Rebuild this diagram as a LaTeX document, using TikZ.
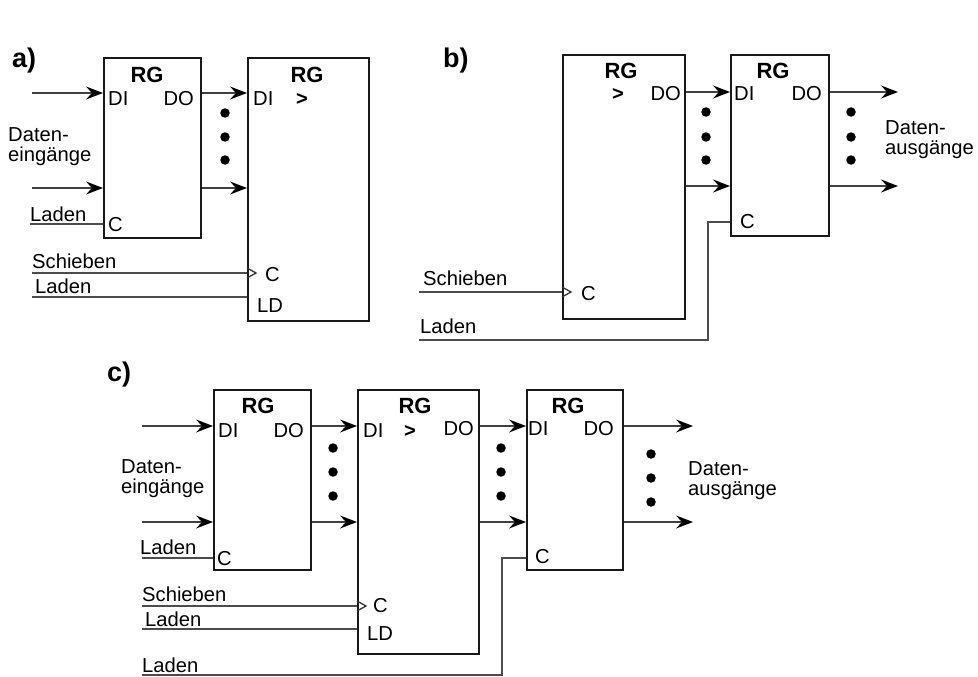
\documentclass[tikz,border=0pt]{standalone}
\usepackage{fontspec}
\setmainfont{Liberation Sans}
\usetikzlibrary{arrows.meta}
\begin{document}
\begin{tikzpicture}[x=1pt,y=-1pt,
 box/.style={draw=black!90, line width=2.2pt, inner sep=0pt, anchor=north west},
 wire/.style={draw=black!70, line width=1.5pt},
 arr/.style={draw=black!75, line width=1.5pt, -{Stealth[length=17pt,width=13pt,inset=6pt,black]}},
 lbl/.style={inner sep=0pt, font=\fontsize{20.2}{24}\selectfont},
 lw/.style={lbl, anchor=base west},
 le/.style={lbl, anchor=base east},
 gt/.style={inner sep=0pt, font=\fontsize{20}{24}\selectfont\bfseries, anchor=base},
 rg/.style={inner sep=0pt, font=\fontsize{22}{26}\selectfont\bfseries, anchor=base},
 panel/.style={inner sep=0pt, font=\fontsize{27}{30}\selectfont\bfseries, anchor=base west},
 dotm/.style={fill=black, circle, inner sep=0pt, minimum size=9.5pt},
 clk/.style={draw=black!80, line width=1.3pt}
]
\useasboundingbox (0,0) rectangle (978,677);
% ---------------- panel a
\node[panel] (pa) at (12,67) {a)};
\node[box, minimum width=97pt, minimum height=180pt] (a1) at (103,57) {};
\node[box, minimum width=121pt, minimum height=263pt] (a2) at (247,57) {};
\coordinate (ai1) at (32,93); \coordinate (ai2) at (32,188);
\draw[arr] (ai1) -- (ai1 -| a1.west);
\draw[arr] (ai2) -- (ai2 -| a1.west);
\draw[arr] (ai1 -| a1.east) -- (ai1 -| a2.west);
\draw[arr] (ai2 -| a1.east) -- (ai2 -| a2.west);
\coordinate (al1) at (30,224); \draw[wire] (al1) -- (al1 -| a1.west);
\coordinate (as) at (32,273); \draw[wire] (as) -- (as -| a2.west);
\draw[clk] (as -| a2.west) ++(0,-5) -- ++(9,5) -- ++(-9,5);
\coordinate (al2) at (32,297); \draw[wire] (al2) -- (al2 -| a2.west);
\node[rg] (a1rg) at (147,82) {RG};
\node[lw] (a1di) at (108,106) {DI};
\node[le] (a1do) at (194,106) {DO};
\node[lw] (ade1) at (8,141) {Daten-};
\node[lw] (ade2) at (8,161) {eingänge};
\node[lw] (alad1) at (30,221) {Laden};
\node[lw] (a1c) at (108,231) {C};
\node[rg] (a2rg) at (307,82) {RG};
\node[lw] (a2di) at (253,106) {DI};
\node[gt] (a2gt) at (302,106) {>};
\node[lw] (asch) at (32,268) {Schieben};
\node[lw] (a2c) at (265,281) {C};
\node[lw] (alad2) at (35,293) {Laden};
\node[lw] (a2ld) at (257,312) {LD};
\node[dotm] (ad1) at (225,113) {};
\node[dotm] (ad2) at (225,137) {};
\node[dotm] (ad3) at (225,160) {};
% ---------------- panel b
\node[panel] (pb) at (443,67) {b)};
\node[box, minimum width=122pt, minimum height=264pt] (b1) at (562,54) {};
\node[box, minimum width=98pt, minimum height=181pt] (b2) at (730,54) {};
\coordinate (bo1) at (898,92); \coordinate (bo2) at (898,186);
\draw[arr] (bo1 -| b1.east) -- (bo1 -| b2.west);
\draw[arr] (bo2 -| b1.east) -- (bo2 -| b2.west);
\draw[arr] (bo1 -| b2.east) -- (bo1);
\draw[arr] (bo2 -| b2.east) -- (bo2);
\coordinate (bs) at (419,292); \draw[wire] (bs) -- (bs -| b1.west);
\draw[clk] (bs -| b1.west) ++(0,-5) -- ++(9,5) -- ++(-9,5);
\coordinate (bl) at (419,340); \coordinate (bk) at (708,222);
\draw[wire] (bl) -| (bk) -- (bk -| b2.west);
\node[rg] (b1rg) at (621,78) {RG};
\node[gt] (b1gt) at (618,101) {>};
\node[le] (b1do) at (681,100) {DO};
\node[rg] (b2rg) at (773,78) {RG};
\node[lw] (b2di) at (734,100) {DI};
\node[le] (b2do) at (822,100) {DO};
\node[lw] (b2c) at (740,228) {C};
\node[lw] (bda1) at (885,134) {Daten-};
\node[lw] (bda2) at (885,154) {ausgänge};
\node[lw] (bsch) at (423,285) {Schieben};
\node[lw] (b1c) at (581,300) {C};
\node[lw] (blad) at (420,333) {Laden};
\node[dotm] (bd1) at (706,112) {};
\node[dotm] (bd2) at (706,137) {};
\node[dotm] (bd3) at (706,160) {};
\node[dotm] (bd4) at (851,112) {};
\node[dotm] (bd5) at (851,137) {};
\node[dotm] (bd6) at (851,160) {};
% ---------------- panel c
\node[panel] (pc) at (107,381) {c)};
\node[box, minimum width=97pt, minimum height=180pt] (c1) at (213,389) {};
\node[box, minimum width=121pt, minimum height=264pt] (c2) at (357,389) {};
\node[box, minimum width=96pt, minimum height=180pt] (c3) at (526,389) {};
\coordinate (ci1) at (142,426); \coordinate (ci2) at (142,522);
\coordinate (co1) at (693,426); \coordinate (co2) at (693,522);
\draw[arr] (ci1) -- (ci1 -| c1.west);
\draw[arr] (ci2) -- (ci2 -| c1.west);
\draw[arr] (ci1 -| c1.east) -- (ci1 -| c2.west);
\draw[arr] (ci2 -| c1.east) -- (ci2 -| c2.west);
\draw[arr] (ci1 -| c2.east) -- (ci1 -| c3.west);
\draw[arr] (ci2 -| c2.east) -- (ci2 -| c3.west);
\draw[arr] (co1 -| c3.east) -- (co1);
\draw[arr] (co2 -| c3.east) -- (co2);
\coordinate (cl1) at (142,558); \draw[wire] (cl1) -- (cl1 -| c1.west);
\coordinate (cs) at (142,606); \draw[wire] (cs) -- (cs -| c2.west);
\draw[clk] (cs -| c2.west) ++(0,-5) -- ++(9,5) -- ++(-9,5);
\coordinate (cl2) at (142,629); \draw[wire] (cl2) -- (cl2 -| c2.west);
\coordinate (cl3) at (142,675); \coordinate (ck) at (502,558);
\draw[wire] (cl3) -| (ck) -- (ck -| c3.west);
\node[rg] (c1rg) at (258,413) {RG};
\node[lw] (c1di) at (218,437) {DI};
\node[le] (c1do) at (304,437) {DO};
\node[lw] (c1c) at (217,565) {C};
\node[lw] (cde1) at (121,473) {Daten-};
\node[lw] (cde2) at (121,493) {eingänge};
\node[lw] (clad1) at (140,554) {Laden};
\node[rg] (c2rg) at (415,413) {RG};
\node[lw] (c2di) at (363,437) {DI};
\node[gt] (c2gt) at (410,437) {>};
\node[le] (c2do) at (474,435) {DO};
\node[lw] (c2c) at (373,612) {C};
\node[lw] (c2ld) at (367,640) {LD};
\node[lw] (csch) at (142,601) {Schieben};
\node[lw] (clad2) at (145,626) {Laden};
\node[rg] (c3rg) at (568,413) {RG};
\node[lw] (c3di) at (528,435) {DI};
\node[le] (c3do) at (614,435) {DO};
\node[lw] (c3c) at (535,563) {C};
\node[lw] (cda1) at (688,475) {Daten-};
\node[lw] (cda2) at (688,495) {ausgänge};
\node[lw] (clad3) at (142,672) {Laden};
\node[dotm] (cd1) at (333,448) {};
\node[dotm] (cd2) at (333,472) {};
\node[dotm] (cd3) at (333,496) {};
\node[dotm] (cd4) at (501,448) {};
\node[dotm] (cd5) at (501,472) {};
\node[dotm] (cd6) at (501,496) {};
\node[dotm] (cd7) at (651,454) {};
\node[dotm] (cd8) at (651,478) {};
\node[dotm] (cd9) at (651,502) {};
\end{tikzpicture}
\end{document}
